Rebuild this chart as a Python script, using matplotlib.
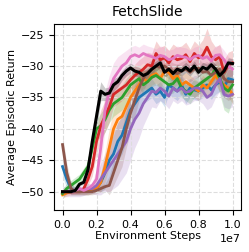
import numpy as np
import matplotlib
matplotlib.use('Agg')
import matplotlib.pyplot as plt

# mean returns, sampled every 0.025e7 steps
black = [-50, -50, -50, -49.8, -48.8, -48.5, -46.5, -42, -38, -34, -34.5, -34.3, -33, -32.5, -31.5, -30.8,
         -30.3, -30.8, -31, -31.5, -31.2, -30.5, -30, -29.5, -31, -30.5, -31.2, -30.5, -30.8, -30.2, -30.8,
         -30, -31, -30.2, -30.5, -29.8, -30.5, -31.5, -30.8, -29.5, -29.6]
red = [-50, -50, -50, -50, -50, -49.5, -48, -46, -42, -39.5, -38, -36.5, -34.5, -34, -33.5, -33, -32.2,
       -31.5, -31, -30.5, -29.8, -30, -28, -29, -28.7, -29.5, -28.5, -29, -28.8, -28.2, -29.3, -28, -28.7,
       -28.3, -27, -28.5, -29, -28.5, -31, -29.8, -29.5]
pink = [-50, -50, -50, -49.8, -49.5, -49.8, -49.5, -49, -48, -43, -37, -34, -32, -31, -30, -29.5, -28.5,
        -28.2, -28.5, -28, -28.3, -28.5, -28.8, -28.3, -28.5, -29, -28.8, -28.3, -28.5, -28.6, -29, -28.5,
        -28.3, -28.8, -28.5, -29.2, -28.3, -28.2, -29, -30, -30.5]
green = [-50.3, -49.5, -49, -48.5, -48, -47, -46, -43, -40, -39.5, -38.5, -37, -36, -35.5, -35, -34, -33,
         -32.5, -32, -33, -32.5, -31.8, -31.5, -32, -32.5, -33, -32.8, -32, -33.5, -34, -34.5, -33.5, -33,
         -32.5, -32, -31.5, -30.5, -32, -33.5, -34, -33]
orange = [-50.5, -50.2, -50, -50, -50, -50, -50, -49.8, -49.5, -48.5, -46, -43, -40, -38.5, -38, -36.5,
          -35, -34, -33, -32, -32.5, -31.5, -31.2, -32, -30.8, -31, -32, -31.5, -33, -32.5, -33, -33.5, -34,
          -33, -33.5, -32.5, -31.5, -32.5, -33, -33.5, -34.5]
blue = [-46, -48, -49.5, -50, -50, -50, -50, -49.8, -49.5, -48.5, -47, -45, -44, -42, -41, -39, -37, -36,
        -35, -34.5, -34, -33.5, -34.5, -34, -35, -33, -33.5, -34, -33, -34.5, -33.5, -33.8, -34, -33.5, -33,
        -33.8, -33, -32.5, -33.5, -32, -32.2]
purple = [-50, -50, -50, -50, -50, -49.8, -49.5, -49.5, -49, -48, -47, -46, -45, -44, -43, -42, -40, -38.5,
          -37.5, -36, -35, -34, -34.2, -33.5, -34, -34.8, -33.5, -34, -33.5, -34.2, -34, -33.5, -33.5, -34,
          -35, -34.5, -33, -32, -34.5, -34.8, -34.5]
brown = [-42.5, -47, -49.5, -50, -50, -50, -50, -50, -49.8, -49.5, -49.2, -49, -47, -45, -43, -40, -37.5,
         -35.5, -33.5, -32, -31, -30.5, -30, -30.2, -30, -30.5, -31, -31.2, -30.8, -30.5, -31, -30.5, -30.3,
         -31, -30.8, -31.5, -31, -30.5, -32, -32.5, -32.5]

# half-width of shaded band
black_sd = [0.3] * 6 + [1, 1.5, 2, 1.5, 1, 1, 1] + [0.8] * 28
red_sd = [0.3] * 6 + [1, 1.5, 2, 2.5, 2.5, 2.5, 2, 2, 2, 1.8, 1.8, 1.8, 2, 2] + [2] * 13 + [2.5, 3, 2.5] + [2] * 5
pink_sd = [0.5] * 8 + [1.5, 3, 3, 2.5, 2.5, 2.5, 2, 2] + [1.5] * 25
green_sd = [0.8] * 8 + [1.5, 2, 2, 2, 2, 2, 2, 2, 1.8] + [1.5] * 20 + [2.5, 3.5, 3.5, 2.5]
orange_sd = [0.5] * 9 + [1.5, 2.5, 3, 3, 3, 2.5, 2, 2, 1.8] + [1.5] * 23
blue_sd = [1.5, 1.5, 1] + [0.5] * 6 + [1.5, 2.5, 3, 3, 3, 3, 3, 2.5, 2, 2] + [1.5] * 22
purple_sd = [0.8] * 8 + [1.5, 2.5, 3, 4, 4.5, 5, 5, 5, 5, 4.5, 4, 3.5, 3, 2.5, 2.5] + [2] * 18
brown_sd = [1.5, 1.5, 1] + [0.5] * 8 + [1.5, 2, 2.5, 3, 3, 3, 2.5, 2, 2] + [1.5] * 17 + [2.5, 3, 3, 2.5]

series = [
    (blue, blue_sd, '#1f77b4'),
    (orange, orange_sd, '#ff7f0e'),
    (green, green_sd, '#2ca02c'),
    (red, red_sd, '#d62728'),
    (purple, purple_sd, '#9467bd'),
    (brown, brown_sd, '#8c564b'),
    (pink, pink_sd, '#e377c2'),
    (black, black_sd, 'black'),
]

fig = plt.figure(figsize=(2.49, 2.52), dpi=100)
ax = fig.add_axes([0.217, 0.167, 0.751, 0.738])

# bands first, lines on top
for m, sd, c in series:
    m = np.array(m)
    sd = np.array(sd[:len(m)])
    x = np.linspace(0, 1e7, len(m))
    ax.fill_between(x, m - sd, m + sd, color=c, alpha=0.2, linewidth=0)
for m, sd, c in series:
    x = np.linspace(0, 1e7, len(m))
    ax.plot(x, m, color=c, linewidth=2 if c != 'black' else 2.2)

ax.set_ylim(-52.9, -23.3)
ax.set_yticks([-50, -45, -40, -35, -30, -25])
ax.set_xticks(np.arange(0, 1.01e7, 0.2e7))
ax.grid(True, linestyle='--', color='#dddddd', linewidth=0.8)
ax.tick_params(labelsize=8)
ax.set_title('FetchSlide', fontsize=10)
ax.set_xlabel('Environment Steps', fontsize=8, labelpad=1)
ax.set_ylabel('Average Episodic Return', fontsize=8, labelpad=3)
ax.xaxis.get_offset_text().set_fontsize(8)

plt.savefig('out.png', dpi=100)
